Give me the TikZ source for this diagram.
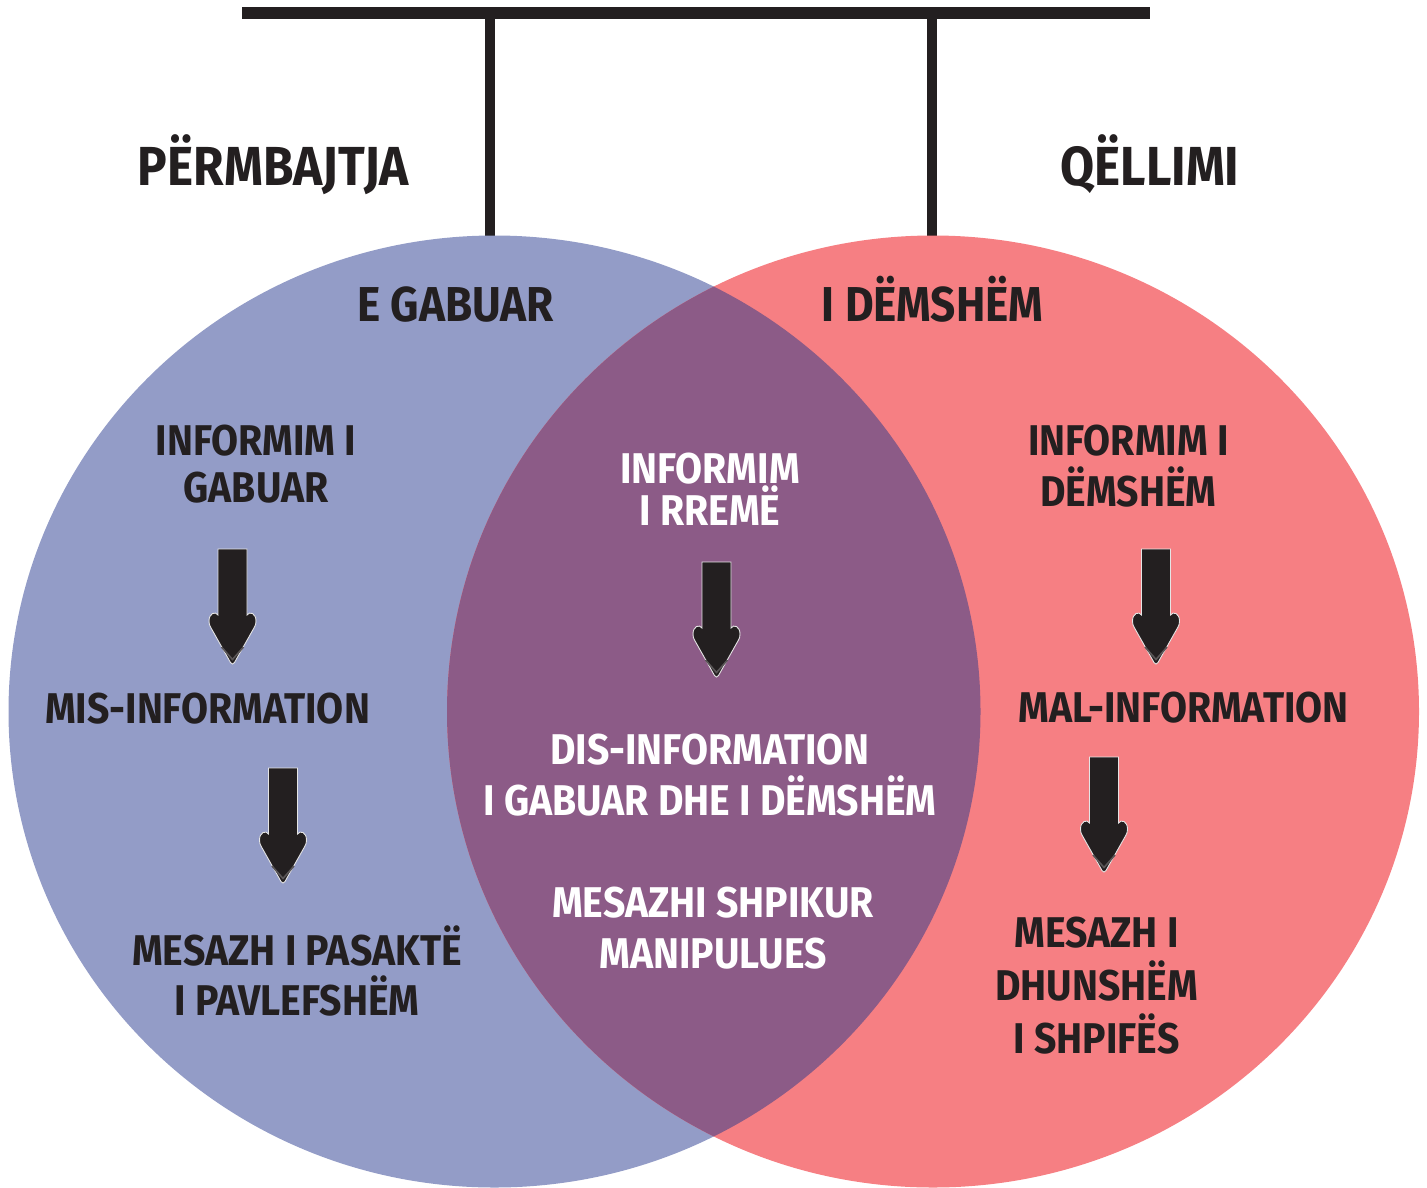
\documentclass[tikz,border=0pt]{standalone}
\usepackage{fontspec}
\newfontfamily\titlefont{Fira Sans}[FakeStretch=0.90]
\newfontfamily\bodyfont{Fira Sans}[FakeStretch=0.91]
\definecolor{ink}{HTML}{231F20}
\definecolor{vblue}{HTML}{939CC7}
\definecolor{vpink}{HTML}{F67F83}
\definecolor{vpurple}{HTML}{8C5B87}
\definecolor{tipgrey}{HTML}{5A5657}
\tikzset{
  bar/.style={draw=ink, line width=12pt},
  stem/.style={draw=ink, line width=9.5pt},
  bigtitle/.style={font=\titlefont\bfseries\fontsize{55}{60}\selectfont, text=ink, inner sep=0pt, anchor=base},
  subtitle/.style={font=\titlefont\bfseries\fontsize{49}{54}\selectfont, text=ink, inner sep=0pt, anchor=base},
  lbl/.style={font=\bodyfont\bfseries\fontsize{43}{#1}\selectfont, align=center, text=ink, inner sep=0pt},
  wlbl/.style={font=\bodyfont\bfseries\fontsize{43}{#1}\selectfont, align=center, text=white, inner sep=0pt},
  downarrow/.pic={
    \path[fill=ink, draw=white!80!gray, line width=0.9pt]
      (-14.5,0) -- (14.5,0) -- (14.5,66)
      .. controls (17,62) and (23.5,64) .. (23.5,72)
      .. controls (23.5,75) and (23,76) .. (22,78)
      -- (2,113.5) .. controls (1,115.5) and (-1,115.5) .. (-2,113.5)
      -- (-22,78) .. controls (-23,76) and (-23.5,75) .. (-23.5,72)
      .. controls (-23.5,64) and (-17,62) .. (-14.5,66) -- cycle;
    \draw[tipgrey, line width=1.6pt] (-11,98) -- (0,110.5) -- (11,98);
  }
}
\begin{document}
\begin{tikzpicture}[x=1pt,y=-1pt]
\useasboundingbox (0,0) rectangle (1427,1187);
% connector bar
\coordinate (barL) at (242,13);
\coordinate (barR) at (1150,13);
\coordinate (stemLtop) at (490,13);
\coordinate (stemLbot) at (490,245);
\coordinate (stemRtop) at (932,13);
\coordinate (stemRbot) at (932,245);
\draw[stem] (stemLtop) -- (stemLbot);
\draw[stem] (stemRtop) -- (stemRbot);
\draw[bar] (barL) -- (barR);
% circles
\fill[vblue] (494.5,711.5) ellipse [x radius=486, y radius=476];
\fill[vpink] (933,711.5) ellipse [x radius=486, y radius=476];
\begin{scope}
  \clip (494.5,711.5) ellipse [x radius=486, y radius=476];
  \fill[vpurple] (933,711.5) ellipse [x radius=486, y radius=476];
\end{scope}
% titles
\node[bigtitle] (content) at (273.5,185) {PËRMBAJTJA};
\node[bigtitle] (intent) at (1150,185) {QËLLIMI};
\node[subtitle] (false) at (455.5,321) {E GABUAR};
\node[subtitle] (harm) at (932.5,321) {I DËMSHËM};
% left column (base = baseline of last line)
\node[lbl=47, anchor=base] (infg) at (256,502) {INFORMIM I\\GABUAR};
\node[lbl=50, anchor=base] (mis) at (207.5,723) {MIS-INFORMATION};
\node[lbl=50, anchor=base] (pasak) at (297,1015) {MESAZH I PASAKTË\\I PAVLEFSHËM};
% centre column
\node[wlbl=40, anchor=base] (infr) at (710,525) {INFORMIM\\I RREMË};
\node[wlbl=51, anchor=base] (dis) at (710,815) {DIS-INFORMATION\\I GABUAR DHE I DËMSHËM};
\node[wlbl=51, anchor=base] (shpik) at (713,968) {MESAZHI SHPIKUR\\MANIPULUES};
% right column
\node[lbl=51, anchor=base] (infd) at (1128.5,506) {INFORMIM I\\DËMSHËM};
\node[lbl=50, anchor=base] (mal) at (1183.5,722) {MAL-INFORMATION};
\node[lbl=53, anchor=base] (dhun) at (1096.5,1053) {MESAZH I\\DHUNSHËM\\I SHPIFËS};
% arrows
\pic at (232.5,549) {downarrow};
\pic at (283,768) {downarrow};
\pic at (716.5,562) {downarrow};
\pic at (1156,549) {downarrow};
\pic at (1104,757) {downarrow};
\end{tikzpicture}
\end{document}
